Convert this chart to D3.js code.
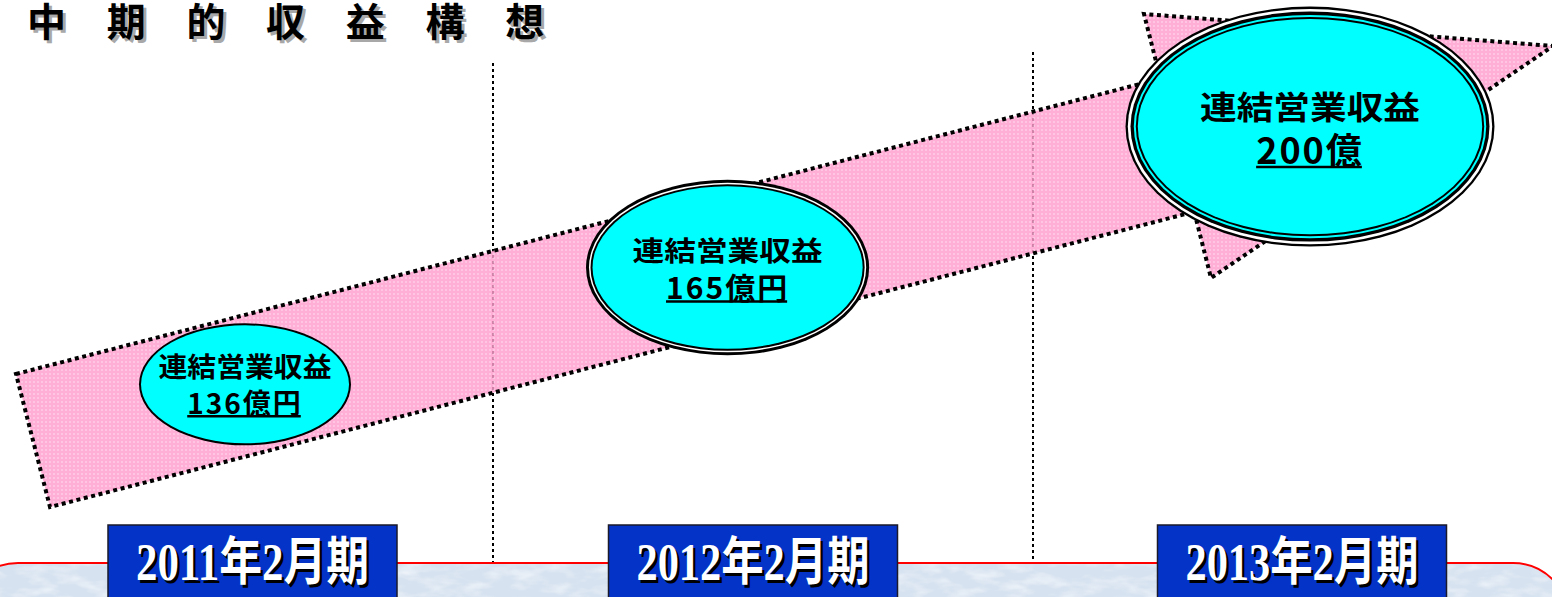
<!DOCTYPE html>
<html>
<head>
<meta charset="utf-8">
<script src="https://cdn.jsdelivr.net/npm/d3@7"></script>
<style>
  html, body { margin: 0; padding: 0; background: #fff; }
  svg { display: block; }
</style>
</head>
<body>
<svg id="chart" width="1552" height="597"></svg>
<script>
// ---- data ----
const title = '中期的収益構想';
const metric = '連結営業収益';
const periods = ['2011年2月期', '2012年2月期', '2013年2月期'];
const revenue = [136, 165, 200];
const units = ['億円', '億円', '億'];

// ---- styles for each bubble (rings drawn from the outside in) ----
const bubbleRings = [
  [{ inset: 0, fill: '#000' }, { inset: 2, fill: '#00ffff' }],
  [{ inset: 0, fill: '#000' }, { inset: 3, fill: '#fff' }, { inset: 4.5, fill: '#000' }, { inset: 6.5, fill: '#00ffff' }],
  [{ inset: 0, fill: '#000' }, { inset: 2.3, fill: '#fff' }, { inset: 5, fill: '#000' },
   { inset: 8.3, fill: '#00ffff' }, { inset: 10.3, fill: '#000' }, { inset: 12.3, fill: '#00ffff' }]
];
const bubbleFont = [
  { head: 27, headW: 173, num: 28 },
  { head: 27, headW: 190, num: 30 },
  { head: 32, headW: 220, num: 36 }
];

const W = 1552, H = 597;
const svg = d3.select('#chart');
const jp = '"Noto Sans CJK JP", "Noto Sans CJK SC", sans-serif';

// ---- scales ----
const vDomain = d3.extent(revenue);
const bx = d3.scaleLinear().domain(vDomain).range([245, 1310]);
const by = d3.scaleLinear().domain(vDomain).range([384.3, 126.6]);
const brx = d3.scaleLinear().domain(vDomain).range([106, 184.5]);
const bry = d3.scaleLinear().domain(vDomain).range([61, 120]);
const colX = d3.scaleOrdinal().domain(periods).range([252.5, 753, 1302]);
const band = d3.scaleBand().domain(periods).range([-47, 1573]);
const boxW = 289, boxTop = 525, panelTop = 563;

// ---- defs: pink dotted fill and mottled panel texture ----
const defs = svg.append('defs');
const pat = defs.append('pattern').attr('id', 'pinkDots')
  .attr('patternUnits', 'userSpaceOnUse').attr('width', 4).attr('height', 4);
pat.append('rect').attr('width', 4).attr('height', 4).attr('fill', '#ff9ccd');
pat.append('rect').attr('x', 1).attr('y', 1).attr('width', 2).attr('height', 2).attr('fill', '#ffb8dd');

const f = defs.append('filter').attr('id', 'mottle')
  .attr('x', 0).attr('y', 0).attr('width', '100%').attr('height', '100%');
f.append('feTurbulence').attr('type', 'fractalNoise')
  .attr('baseFrequency', '0.035 0.09').attr('numOctaves', 3).attr('seed', 7);
f.append('feColorMatrix').attr('type', 'matrix')
  .attr('values', '0 0 0 0 1  0 0 0 0 1  0 0 0 0 1  1.3 0 0 0 -0.55');
f.append('feComposite').attr('in2', 'SourceGraphic').attr('operator', 'in');

// ---- bottom panel ----
const panel = { x: -38, y: panelTop, w: W + 55, h: 120, r: 56 };
svg.append('rect').attr('x', panel.x).attr('y', panel.y).attr('width', panel.w)
  .attr('height', panel.h).attr('rx', panel.r).attr('fill', '#d6e2f0');
svg.append('rect').attr('x', panel.x).attr('y', panel.y).attr('width', panel.w)
  .attr('height', panel.h).attr('rx', panel.r).attr('fill', '#fff')
  .attr('filter', 'url(#mottle)');
svg.append('rect').attr('x', panel.x).attr('y', panel.y).attr('width', panel.w)
  .attr('height', panel.h).attr('rx', panel.r).attr('fill', 'none')
  .attr('stroke', '#ff0000').attr('stroke-width', 2);

// ---- dotted dividers between periods (band boundaries) ----
const dividers = periods.slice(1).map(p => band(p));
svg.selectAll('line.divider').data(dividers).join('line')
  .attr('class', 'divider')
  .attr('x1', d => d).attr('x2', d => d)
  .attr('y1', (d, i) => i === 0 ? 63 : 52).attr('y2', panelTop - 1)
  .attr('stroke', '#000').attr('stroke-width', 2)
  .attr('stroke-dasharray', '3 3');

// ---- growth arrow ----
const arrowPts = [[16, 374], [1160.4, 78.7], [1144, 14], [1553, 46], [1211, 278], [1194.2, 211.8], [50, 507]];
svg.append('path')
  .attr('d', d3.line()(arrowPts) + 'Z')
  .attr('fill', 'url(#pinkDots)').attr('fill-opacity', 0.82)
  .attr('stroke', '#000').attr('stroke-width', 4)
  .attr('stroke-dasharray', '4 3.6').attr('stroke-linejoin', 'miter');

// ---- revenue bubbles ----
const bubbles = svg.selectAll('g.bubble').data(revenue).join('g')
  .attr('class', 'bubble')
  .attr('transform', d => `translate(${bx(d)},${by(d)})`);

bubbles.each(function (v, i) {
  const g = d3.select(this);
  const rx = brx(v), ry = bry(v);
  bubbleRings[i].forEach(ring => {
    g.append('ellipse').attr('rx', rx - ring.inset).attr('ry', ry - ring.inset)
      .attr('fill', ring.fill);
  });
  const ft = bubbleFont[i];
  g.append('text')
    .attr('text-anchor', 'middle').attr('dominant-baseline', 'central')
    .attr('y', -0.68 * ft.head)
    .attr('font-family', jp).attr('font-weight', 700).attr('font-size', ft.head)
    .attr('textLength', ft.headW).attr('lengthAdjust', 'spacingAndGlyphs')
    .attr('fill', '#000').text(metric);
  const base = 1.05 * ft.num;
  const t = g.append('text')
    .attr('text-anchor', 'middle')
    .attr('y', base)
    .attr('font-family', jp).attr('font-weight', 700).attr('font-size', ft.num)
    .attr('letter-spacing', 2)
    .attr('fill', '#000').text(v + units[i]);
  const bb = t.node().getBBox();
  g.append('line')
    .attr('x1', bb.x).attr('x2', bb.x + bb.width - 2)
    .attr('y1', base + 2.5).attr('y2', base + 2.5)
    .attr('stroke', '#000').attr('stroke-width', 2.5);
});

// ---- period boxes ----
const boxes = svg.selectAll('g.period').data(periods).join('g')
  .attr('class', 'period')
  .attr('transform', d => `translate(${colX(d)},0)`);
boxes.append('rect')
  .attr('x', -boxW / 2).attr('y', boxTop).attr('width', boxW).attr('height', H - boxTop + 10)
  .attr('fill', '#0433c8').attr('stroke', '#1a1a2a').attr('stroke-width', 1.5);
const periodFont = '"Liberation Serif", "Times New Roman", "Noto Sans CJK JP", serif';
[{ dx: 2.5, dy: 2.5, fill: '#000' }, { dx: 0, dy: 0, fill: '#fff' }].forEach(s => {
  boxes.append('text')
    .attr('x', s.dx).attr('y', 580 + s.dy)
    .attr('text-anchor', 'middle')
    .attr('font-family', periodFont).attr('font-weight', 700).attr('font-size', 52)
    .attr('textLength', 233).attr('lengthAdjust', 'spacingAndGlyphs')
    .attr('fill', s.fill).text(d => d);
});

// ---- title ----
[{ dx: 3, dy: 3, fill: '#a8a8a8' }, { dx: 0, dy: 0, fill: '#000' }].forEach(s => {
  svg.append('text')
    .attr('x', 27 + s.dx).attr('y', 19 + s.dy)
    .attr('dominant-baseline', 'central')
    .attr('font-family', jp).attr('font-weight', 700).attr('font-size', 39)
    .attr('letter-spacing', 40.7)
    .attr('fill', s.fill).text(title);
});
</script>
</body>
</html>
